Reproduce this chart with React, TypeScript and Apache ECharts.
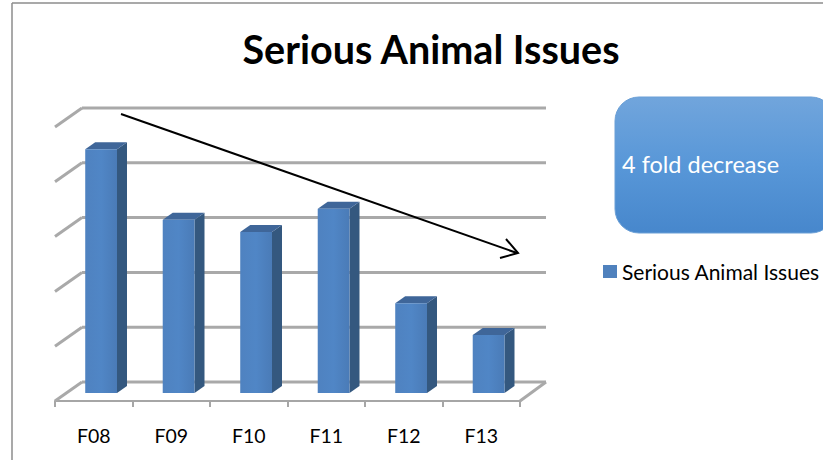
import React, { useEffect, useRef } from "react";
import * as echarts from "echarts";

const categories = ["F08", "F09", "F10", "F11", "F12", "F13"];
const seriesValues = [4.45, 3.16, 2.94, 3.36, 1.64, 1.06];
const yTicks = [0, 1, 2, 3, 4, 5];
const seriesName = "Serious Animal Issues";
const titleText = "Serious Animal Issues";
const noteText = "4 fold decrease";

const FONT = "Lato, 'Open Sans', sans-serif";
const DEPTH_X = 27;
const DEPTH_Y = -19;

export default function App() {
  const ref = useRef<HTMLDivElement>(null);
  useEffect(() => {
    if (!ref.current) return;
    const chart = echarts.init(ref.current, null, { renderer: "svg" });
    const option: any = {
      animation: false,
      backgroundColor: "#ffffff",
      title: {
        text: titleText,
        left: 426,
        textAlign: "center",
        top: 23,
        textStyle: { fontFamily: FONT, fontWeight: "bold", fontSize: 39.5, color: "#000" },
      },
      legend: {
        left: 598,
        top: 256,
        icon: "rect",
        itemWidth: 14,
        itemHeight: 13,
        textStyle: { fontFamily: FONT, fontSize: 21, color: "#000" },
        data: [seriesName],
      },
      grid: { left: 55, top: 127, width: 465, height: 274 },
      xAxis: {
        type: "category",
        data: categories,
        boundaryGap: true,
        axisLine: { show: true, lineStyle: { color: "#a6a6a6", width: 2 } },
        axisTick: { show: true, length: 6, lineStyle: { color: "#a6a6a6", width: 2 } },
        axisLabel: { fontFamily: FONT, fontSize: 19.5, color: "#000", margin: 24 },
        splitLine: { show: false },
      },
      yAxis: {
        type: "value",
        min: 0,
        max: 5,
        interval: 1,
        axisLine: { show: false },
        axisTick: { show: false },
        axisLabel: { show: false },
        splitLine: { show: false },
      },
      series: [
        {
          type: "custom",
          name: "walls",
          silent: true,
          z: 1,
          data: yTicks.map((v) => [0, v]),
          encode: { x: 0, y: 1 },
          renderItem: (params: any, api: any) => {
            const cs = params.coordSys;
            const y = api.coord([0, api.value(1)])[1];
            const style = { stroke: "#a9a9a9", lineWidth: 3 };
            const children: any[] = [
              {
                type: "line",
                shape: { x1: cs.x, y1: y, x2: cs.x + DEPTH_X, y2: y + DEPTH_Y },
                style,
              },
              {
                type: "line",
                shape: { x1: cs.x + DEPTH_X, y1: y + DEPTH_Y, x2: cs.x + cs.width + DEPTH_X - 1, y2: y + DEPTH_Y },
                style,
              },
            ];
            if (api.value(1) === 0) {
              children.push({
                type: "line",
                shape: { x1: cs.x + cs.width, y1: y, x2: cs.x + cs.width + DEPTH_X - 1, y2: y + DEPTH_Y },
                style,
              });
            }
            return { type: "group", children };
          },
        },
        {
          type: "custom",
          name: seriesName,
          z: 3,
          itemStyle: { color: "#4f81bd" },
          data: categories.map((c, i) => [i, seriesValues[i]]),
          encode: { x: 0, y: 1 },
          renderItem: (params: any, api: any) => {
            const idx = api.value(0);
            const v = api.value(1);
            const base = api.coord([idx, 0]);
            const top = api.coord([idx, v]);
            const bw = api.size([1, 0])[0];
            const half = bw * 0.205;
            const ox = bw * 0.095;
            const oy = -8;
            const dx = 10;
            const dy = -7;
            const xl = base[0] + ox - half;
            const xr = base[0] + ox + half;
            const yb = base[1] + oy;
            const yt = top[1] + oy;
            return {
              type: "group",
              children: [
                {
                  type: "polygon",
                  shape: { points: [[xr, yb], [xr + dx, yb + dy], [xr + dx, yt + dy], [xr, yt]] },
                  style: { fill: "#34587f" },
                },
                {
                  type: "polygon",
                  shape: { points: [[xl, yt], [xl + dx, yt + dy], [xr + dx, yt + dy], [xr, yt]] },
                  style: { fill: "#3f6699" },
                },
                {
                  type: "rect",
                  shape: { x: xl, y: yt, width: xr - xl, height: yb - yt },
                  style: {
                    fill: new echarts.graphic.LinearGradient(0, 0, 1, 0, [
                      { offset: 0, color: "#4f82c0" },
                      { offset: 0.5, color: "#5086c6" },
                      { offset: 1, color: "#4a7bb7" },
                    ]),
                  },
                },
              ],
            };
          },
        },
      ],
      graphic: [
        {
          type: "line",
          shape: { x1: 12, y1: 3, x2: 823, y2: 3 },
          style: { stroke: "#8c8c8c", lineWidth: 1.5 },
          z: 10,
        },
        {
          type: "line",
          shape: { x1: 12, y1: 3, x2: 12, y2: 460 },
          style: { stroke: "#8c8c8c", lineWidth: 1.5 },
          z: 10,
        },
        {
          type: "line",
          shape: { x1: 121, y1: 114, x2: 517, y2: 253 },
          style: { stroke: "#000", lineWidth: 2 },
          z: 10,
        },
        {
          type: "polyline",
          shape: { points: [[500, 258], [518, 253], [506, 239]] },
          style: { stroke: "#000", lineWidth: 2, fill: null },
          z: 10,
        },
        {
          type: "rect",
          shape: { x: 615, y: 97, width: 220, height: 136, r: 24 },
          style: {
            fill: new echarts.graphic.LinearGradient(0, 0, 0, 1, [
              { offset: 0, color: "#71a5dc" },
              { offset: 0.5, color: "#5897d8" },
              { offset: 1, color: "#4787cc" },
            ]),
            stroke: "#6a9fd6",
            lineWidth: 1,
          },
          z: 10,
        },
        {
          type: "text",
          x: 622,
          y: 164,
          style: {
            text: noteText,
            fill: "#ffffff",
            fontFamily: FONT,
            fontSize: 23.5,
            verticalAlign: "middle",
            align: "left",
          },
          z: 11,
        },
      ],
    };
    chart.setOption(option);
    return () => chart.dispose();
  }, []);
  return (
    <div
      ref={ref}
      style={{ position: "absolute", left: 0, top: 0, width: 823, height: 460 }}
    />
  );
}
